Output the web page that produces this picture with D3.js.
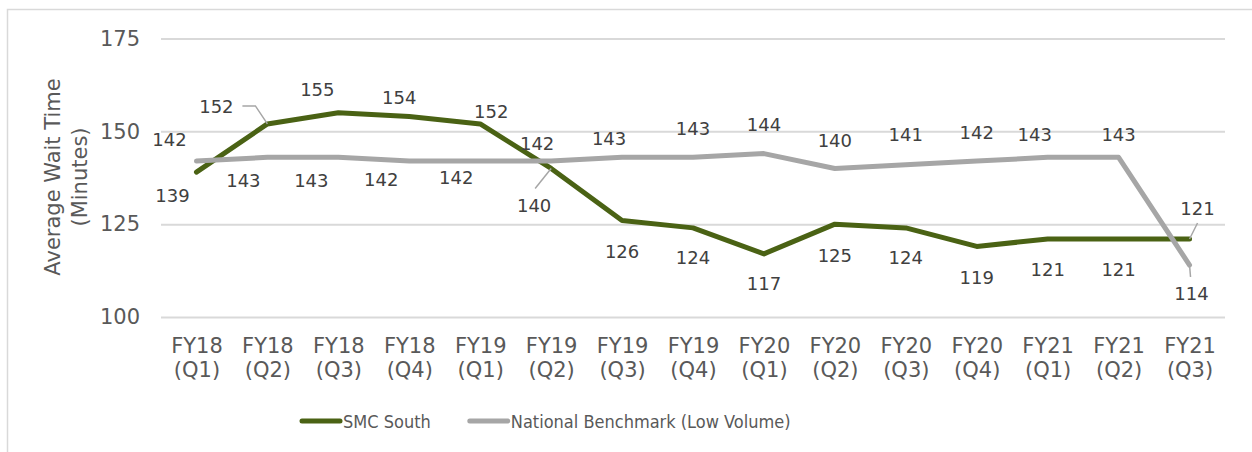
<!DOCTYPE html>
<html>
<head>
<meta charset="utf-8">
<script src="https://cdn.jsdelivr.net/npm/d3@7"></script>
<style>
    body { margin: 0; background: #fff; }
    svg { display: block; }
</style>
</head>
<body>
<div id="chart-container"></div>
<script>
// Data
const categories = ['FY18 (Q1)', 'FY18 (Q2)', 'FY18 (Q3)', 'FY18 (Q4)', 'FY19 (Q1)', 'FY19 (Q2)', 'FY19 (Q3)', 'FY19 (Q4)',
    'FY20 (Q1)', 'FY20 (Q2)', 'FY20 (Q3)', 'FY20 (Q4)', 'FY21 (Q1)', 'FY21 (Q2)', 'FY21 (Q3)']
const smcSouth = [139, 152, 155, 154, 152, 140, 126, 124, 117, 125, 124, 119, 121, 121, 121]
const nationalBenchmark = [142, 143, 143, 142, 142, 142, 143, 143, 144, 140, 141, 142, 143, 143, 114]
const yTicks = [100, 125, 150, 175]
const seriesNames = ['SMC South', 'National Benchmark (Low Volume)']

// Layout: data label nudges (dx, dy of label centre from the point) and leader lines
const smcLabelOffsets = [[-24, 23], [-51, -17], [-21, -23], [-10, -19], [11, -12], [-17, 37], [0, 31], [0, 30],
    [0, 30], [0, 31], [0, 30], [0, 31], [0, 30], [0, 30], [8, -31]]
const benchLabelOffsets = [[-27, -22], [-24, 23], [-27, 23], [-28, 18], [-24, 16], [-14, -18], [-13, -19], [0, -29],
    [0, -29], [0, -28], [0, -30], [0, -29], [-13, -23], [0, -23], [2, 28]]
const smcLeaders = { 1: [[-25, -18], [-12, -18], [0, 0]], 5: [[-16, 20], [0, 0]], 14: [[8, -16], [0, 0]] }
const benchLeaders = { 14: [[1, 12], [0, 0]] }

class WaitTimeChart {
    constructor(options) {
        this.width = options.width
        this.height = options.height
        this.left = 161
        this.right = 1225
        this.top = 38.5
        this.bottom = 317

        this.green = '#4a6214'
        this.gray = '#a6a6a6'
        this.axisText = '#595959'
        this.labelText = '#404040'

        this.x = d3.scalePoint()
            .domain(categories)
            .range([this.left, this.right])
            .padding(0.5)
        this.y = d3.scaleLinear()
            .domain([100, 175])
            .range([this.bottom, this.top])

        this.svg = d3.select('#chart-container')
            .append('svg')
            .attr('width', this.width)
            .attr('height', this.height)
            .style('font-family', '"DejaVu Sans", Verdana, sans-serif')
    }

    plot() {
        this.#drawFrame()
        this.#drawYAxis()
        this.#drawXAxis()
        this.#drawSeries(smcSouth, this.green)
        this.#drawSeries(nationalBenchmark, this.gray)
        this.#drawLeaders(smcSouth, smcLeaders)
        this.#drawLeaders(nationalBenchmark, benchLeaders)
        this.#drawLabels(smcSouth, smcLabelOffsets)
        this.#drawLabels(nationalBenchmark, benchLabelOffsets)
        this.#drawLegend()
    }

    #drawFrame() {
        this.svg.append('rect')
            .attr('x', 7.5)
            .attr('y', 9.5)
            .attr('width', this.width + 20)
            .attr('height', this.height + 20)
            .attr('fill', '#fff')
            .attr('stroke', '#d9d9d9')
            .attr('stroke-width', 1.5)
    }

    #drawYAxis() {
        const yAxis = d3.axisLeft(this.y)
            .tickValues(yTicks)
            .tickSize(-(this.right - this.left))
            .tickPadding(21)
        const g = this.svg.append('g')
            .attr('transform', 'translate(' + this.left + ',0)')
            .call(yAxis)
        g.select('.domain').remove()
        g.selectAll('.tick line')
            .attr('stroke', '#d9d9d9')
            .attr('stroke-width', 2)
        g.selectAll('.tick text')
            .attr('fill', this.axisText)
            .style('font-size', '21px')
            .style('font-family', '"DejaVu Sans", Verdana, sans-serif')

        // two line axis title
        const title = this.svg.append('text')
            .attr('transform', 'translate(0,' + 177 + ') rotate(-90)')
            .attr('text-anchor', 'middle')
            .attr('fill', this.axisText)
            .style('font-size', '21px')
        title.append('tspan').attr('x', 0).attr('y', 60).text('Average Wait Time')
        title.append('tspan').attr('x', 0).attr('y', 87).text('(Minutes)')
    }

    #drawXAxis() {
        const xAxis = d3.axisBottom(this.x).tickSize(0).tickFormat('')
        const g = this.svg.append('g')
            .attr('transform', 'translate(0,' + this.bottom + ')')
            .call(xAxis)
        g.select('.domain').remove()
        g.selectAll('.tick').each((d, i, nodes) => {
            const parts = d.split(' ')
            const t = d3.select(nodes[i]).select('text')
                .attr('y', 0)
                .attr('dy', null)
                .attr('fill', this.axisText)
                .style('font-size', '21px')
                .style('font-family', '"DejaVu Sans", Verdana, sans-serif')
            t.append('tspan').attr('x', 0).attr('y', 36).text(parts[0])
            t.append('tspan').attr('x', 0).attr('y', 60).text(parts[1])
        })
    }

    #drawSeries(values, color) {
        const line = d3.line()
            .x((d, i) => this.x(categories[i]))
            .y(d => this.y(d))
        this.svg.append('path')
            .datum(values)
            .attr('d', line)
            .attr('fill', 'none')
            .attr('stroke', color)
            .attr('stroke-width', 5)
            .attr('stroke-linejoin', 'round')
            .attr('stroke-linecap', 'round')
    }

    #drawLeaders(values, leaders) {
        Object.keys(leaders).forEach(k => {
            const i = +k
            const px = this.x(categories[i])
            const py = this.y(values[i])
            this.svg.append('polyline')
                .attr('points', leaders[k].map(p => (px + p[0]) + ',' + (py + p[1])).join(' '))
                .attr('fill', 'none')
                .attr('stroke', this.gray)
                .attr('stroke-width', 1.5)
        })
    }

    #drawLabels(values, offsets) {
        this.svg.append('g')
            .selectAll('text')
            .data(values)
            .enter()
            .append('text')
            .attr('x', (d, i) => this.x(categories[i]) + offsets[i][0])
            .attr('y', (d, i) => this.y(d) + offsets[i][1] + 6.5)
            .attr('text-anchor', 'middle')
            .attr('fill', this.labelText)
            .style('font-size', '18px')
            .text(d => d)
    }

    #drawLegend() {
        const colors = [this.green, this.gray]
        const legend = this.svg.append('g')
            .attr('transform', 'translate(300,421)')
        let xPos = 0
        seriesNames.forEach((name, i) => {
            legend.append('line')
                .attr('x1', xPos + 2)
                .attr('x2', xPos + 40)
                .attr('y1', 0)
                .attr('y2', 0)
                .attr('stroke', colors[i])
                .attr('stroke-width', 5)
                .attr('stroke-linecap', 'round')
            const t = legend.append('text')
                .attr('x', xPos + 43)
                .attr('y', 6.5)
                .attr('fill', this.axisText)
                .style('font-family', '"DejaVu Sans Condensed", "DejaVu Sans", sans-serif')
                .style('font-size', '18px')
                .text(name)
            xPos += 43 + t.node().getComputedTextLength() + 37
        })
    }
}

const chart = new WaitTimeChart({ width: 1252, height: 452 })
chart.plot()
</script>
</body>
</html>
